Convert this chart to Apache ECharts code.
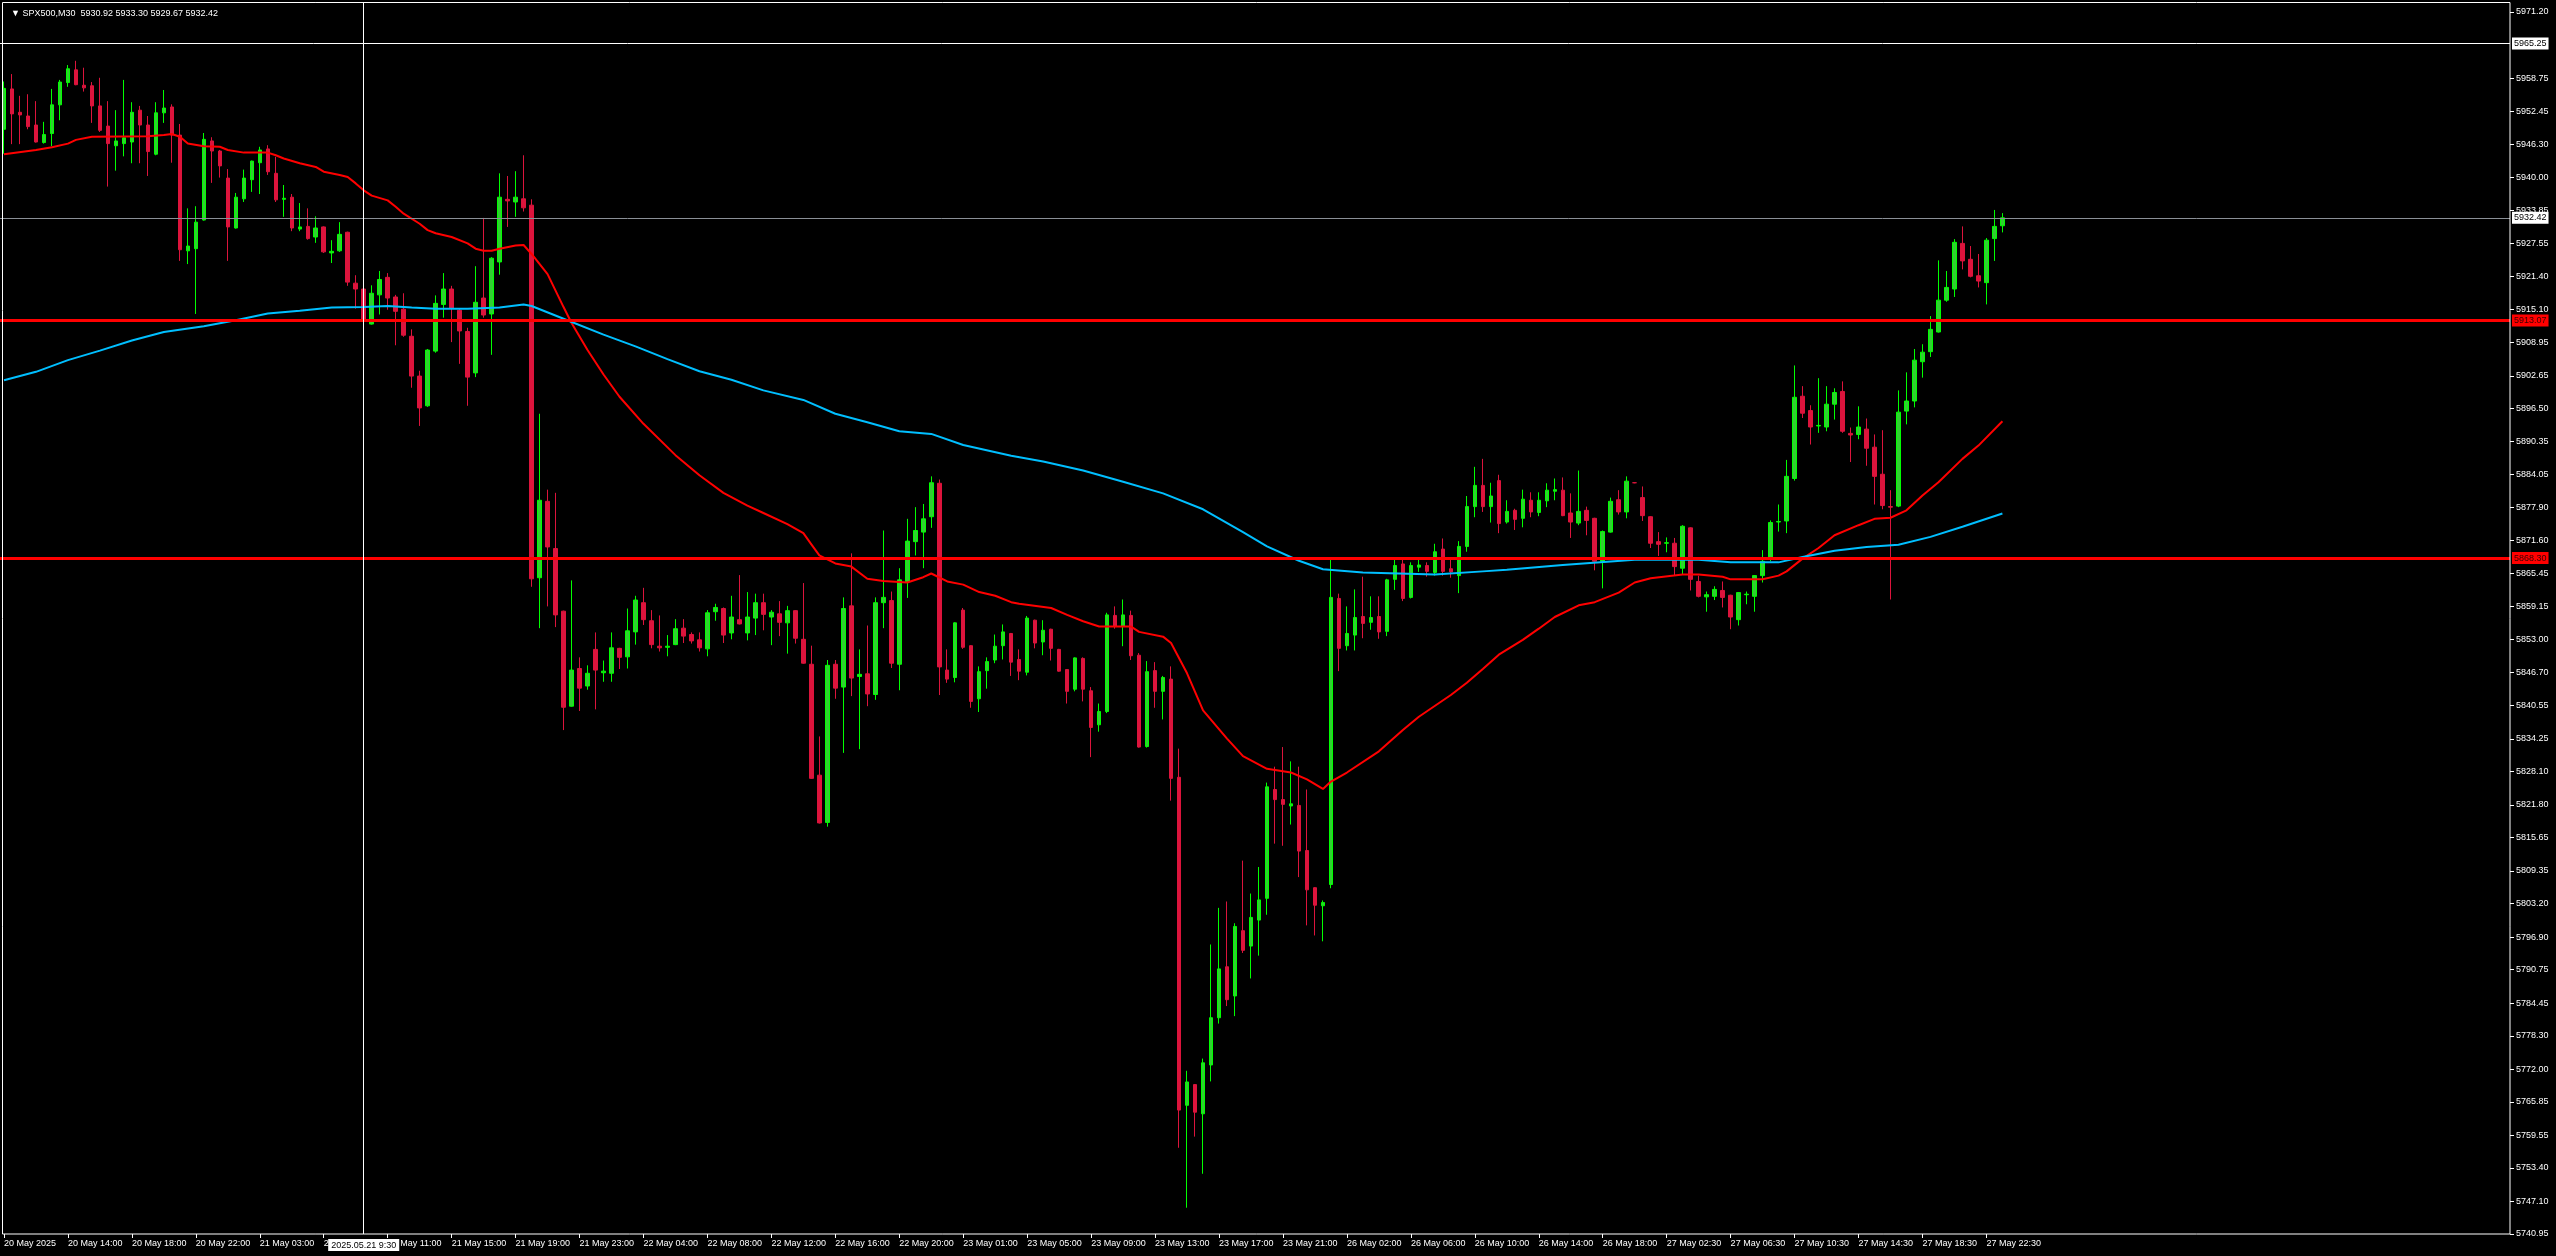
<!DOCTYPE html>
<html><head><meta charset="utf-8">
<script src="https://cdn.jsdelivr.net/npm/echarts@6/dist/echarts.min.js"></script>
<style>html,body{margin:0;padding:0;background:#000;overflow:hidden}#c{width:2556px;height:1256px}</style>
</head><body><div id="c"></div>
<script>
// [open, high, low, close] per 30-minute bar, 20 May 10:00 -> 27 May 23:30
const bars = [
[5949.1,5958.1,5944.5,5956.8],[5956.7,5959.5,5946.3,5952.0],[5952.3,5955.4,5946.3,5951.8],[5951.6,5955.7,5949.1,5949.6],
[5949.9,5954.4,5946.6,5946.7],[5946.6,5950.5,5946.4,5948.1],[5948.3,5956.7,5945.9,5953.7],[5953.7,5958.4,5950.8,5958.0],
[5957.9,5961.2,5957.1,5960.5],[5960.3,5962.0,5957.4,5957.5],[5957.4,5960.7,5956.2,5956.9],[5957.3,5958.0,5950.3,5953.5],
[5953.5,5958.8,5948.6,5948.9],[5949.7,5954.4,5938.3,5946.4],[5946.0,5952.7,5941.3,5946.9],[5946.4,5958.4,5944.0,5947.5],
[5946.7,5954.2,5942.7,5952.3],[5952.7,5953.5,5942.7,5949.9],[5949.9,5951.6,5940.3,5944.9],[5944.4,5954.2,5944.2,5952.2],
[5952.2,5956.5,5950.3,5953.1],[5953.3,5953.8,5942.8,5948.0],[5948.0,5950.1,5924.3,5926.4],[5926.2,5934.2,5923.7,5927.1],
[5926.6,5934.6,5914.3,5931.6],[5932.0,5948.4,5931.9,5947.2],[5946.9,5947.6,5939.0,5945.0],[5945.0,5945.2,5940.0,5942.2],
[5939.9,5941.6,5924.3,5930.7],[5930.5,5937.1,5930.4,5936.3],[5936.0,5941.5,5935.4,5939.9],[5939.6,5943.2,5937.3,5943.1],
[5942.8,5945.8,5936.9,5945.2],[5945.4,5946.1,5940.5,5941.1],[5940.8,5943.9,5935.4,5935.8],[5935.9,5938.6,5932.6,5936.1],
[5936.3,5936.9,5929.9,5930.5],[5930.3,5935.2,5929.9,5930.7],[5930.8,5934.2,5928.3,5928.5],[5928.8,5932.7,5927.7,5930.5],
[5930.7,5930.8,5925.8,5926.0],[5925.8,5928.2,5923.9,5926.1],[5926.2,5931.6,5926.0,5929.3],[5929.7,5929.8,5919.6,5920.3],
[5920.1,5921.6,5915.3,5919.0],[5919.0,5921.5,5911.3,5912.9],[5912.4,5919.7,5912.3,5918.2],[5917.9,5922.4,5914.2,5920.8],
[5921.2,5922.0,5915.1,5917.3],[5917.5,5917.9,5908.4,5914.8],[5915.2,5918.2,5910.0,5910.3],[5910.1,5911.4,5900.4,5902.6],
[5902.6,5903.6,5893.2,5896.6],[5897.0,5907.7,5896.8,5907.5],[5907.3,5917.8,5907.0,5916.3],[5916.1,5922.0,5913.6,5919.0],
[5919.0,5919.6,5909.0,5915.4],[5915.0,5915.3,5904.9,5911.1],[5911.0,5911.7,5897.0,5902.4],[5903.2,5923.3,5902.4,5916.5],
[5917.3,5932.4,5913.6,5914.1],[5914.3,5925.0,5906.6,5924.8],[5924.1,5940.8,5921.7,5936.3],[5935.9,5940.3,5930.7,5935.6],
[5935.4,5941.2,5932.6,5936.3],[5936.0,5944.2,5933.6,5934.3],[5934.8,5935.9,5862.9,5864.4],[5864.6,5895.5,5855.1,5879.2],
[5879.0,5881.2,5859.2,5870.4],[5870.1,5880.6,5855.3,5857.6],[5858.3,5858.4,5835.9,5840.2],[5840.4,5864.1,5840.3,5847.2],
[5847.5,5849.6,5839.5,5843.8],[5844.2,5848.1,5843.5,5846.6],[5851.1,5854.3,5839.8,5847.2],[5846.7,5849.0,5845.0,5847.0],
[5846.6,5854.3,5845.0,5851.4],[5851.3,5851.4,5847.4,5849.6],[5849.7,5858.8,5847.5,5854.6],[5854.4,5861.2,5852.0,5860.4],
[5859.9,5862.7,5855.7,5856.7],[5856.5,5858.5,5851.3,5852.0],[5851.7,5857.5,5850.7,5851.4],[5851.5,5853.8,5849.8,5851.7],
[5852.0,5856.8,5851.9,5855.0],[5855.1,5856.8,5852.3,5853.6],[5853.9,5854.3,5852.2,5852.7],[5852.9,5854.3,5850.7,5851.4],
[5851.2,5858.5,5849.8,5858.0],[5858.2,5859.7,5856.5,5859.0],[5858.8,5859.0,5852.3,5853.8],[5854.2,5861.2,5853.0,5857.2],
[5856.7,5865.1,5855.8,5855.9],[5854.2,5861.9,5852.8,5857.2],[5857.0,5861.6,5853.8,5859.9],[5859.9,5861.6,5854.7,5857.7],
[5857.2,5858.5,5851.9,5858.1],[5857.8,5860.2,5853.6,5856.2],[5856.1,5859.3,5850.3,5858.4],[5858.4,5858.5,5852.2,5853.2],
[5853.0,5863.6,5848.4,5848.5],[5848.3,5851.8,5826.7,5826.8],[5827.4,5834.7,5818.3,5818.4],[5818.5,5849.1,5817.7,5848.1],
[5848.3,5849.1,5841.8,5843.8],[5844.0,5860.9,5831.6,5858.8],[5859.3,5869.2,5842.3,5845.7],[5846.0,5851.1,5832.3,5846.4],
[5846.5,5855.6,5840.4,5842.7],[5842.6,5860.9,5841.6,5859.9],[5859.9,5873.5,5855.1,5860.9],[5860.3,5862.0,5847.6,5848.5],
[5848.3,5866.4,5843.4,5864.2],[5863.9,5875.7,5860.8,5871.5],[5871.4,5877.9,5868.8,5873.5],[5873.2,5878.5,5866.4,5875.7],
[5876.1,5883.7,5874.0,5882.5],[5882.4,5883.1,5842.5,5847.8],[5847.2,5851.1,5844.8,5845.5],[5845.8,5856.2,5844.9,5856.1],
[5858.5,5858.9,5851.2,5851.5],[5851.8,5851.9,5840.1,5841.3],[5841.8,5847.9,5839.3,5846.9],[5847.1,5849.6,5843.7,5848.8],
[5849.1,5853.9,5848.5,5851.7],[5851.8,5855.8,5849.2,5854.4],[5854.1,5854.2,5846.1,5848.7],[5849.2,5851.1,5845.3,5847.0],
[5846.8,5857.4,5846.2,5857.0],[5856.6,5856.7,5851.3,5852.3],[5852.5,5856.6,5850.0,5854.7],[5854.9,5855.0,5849.0,5851.3],
[5851.1,5851.2,5846.9,5847.0],[5847.3,5847.4,5840.9,5843.2],[5843.6,5849.6,5843.2,5849.5],[5849.4,5849.6,5841.3,5843.6],
[5843.3,5844.0,5830.8,5836.4],[5836.9,5840.9,5835.6,5839.4],[5839.4,5858.0,5839.1,5857.6],[5857.5,5859.2,5855.0,5855.4],
[5855.4,5860.5,5851.7,5857.6],[5857.5,5858.4,5849.1,5849.9],[5850.0,5850.4,5832.6,5832.7],[5832.8,5848.9,5832.6,5846.9],
[5847.1,5848.7,5840.1,5843.2],[5843.2,5846.1,5837.9,5845.8],[5845.5,5847.9,5822.6,5826.8],[5827.0,5832.4,5757.2,5764.3],
[5765.2,5771.7,5745.9,5769.6],[5769.1,5769.2,5759.3,5763.9],[5763.6,5774.0,5752.3,5773.2],[5772.8,5795.5,5769.7,5781.7],
[5781.7,5802.4,5780.6,5790.9],[5791.3,5803.6,5783.9,5785.1],[5785.8,5799.5,5782.0,5798.9],[5798.1,5811.3,5793.9,5794.4],
[5795.2,5805.1,5789.1,5800.6],[5800.1,5810.1,5793.4,5803.9],[5804.2,5826.0,5801.1,5825.2],[5824.7,5829.0,5814.5,5822.8],
[5822.8,5832.7,5814.1,5821.9],[5821.6,5830.0,5818.1,5822.0],[5821.7,5829.0,5808.2,5813.1],[5813.2,5824.7,5799.1,5805.8],
[5806.2,5806.3,5797.2,5802.9],[5802.8,5803.8,5796.1,5803.4],[5806.8,5868.0,5806.1,5860.9],[5860.7,5861.6,5847.0,5851.3],
[5851.8,5859.2,5850.9,5854.1],[5853.8,5862.4,5850.9,5857.1],[5857.3,5864.8,5853.2,5856.0],[5856.2,5861.1,5854.8,5857.1],
[5857.3,5861.1,5853.1,5854.4],[5854.5,5864.4,5853.6,5864.2],[5864.3,5868.5,5862.3,5866.9],[5867.2,5868.0,5860.2,5860.7],
[5860.9,5867.5,5860.7,5866.9],[5866.6,5868.5,5865.7,5867.0],[5866.9,5867.5,5864.8,5865.8],[5865.6,5871.0,5865.0,5869.5],
[5870.0,5872.0,5865.0,5865.8],[5866.3,5868.0,5864.6,5865.7],[5865.0,5871.5,5861.7,5870.5],[5870.5,5880.0,5869.5,5878.0],
[5878.0,5885.5,5876.0,5882.0],[5882.0,5887.0,5877.0,5878.0],[5878.0,5882.5,5875.0,5880.0],[5882.9,5884.0,5873.0,5874.8],
[5875.1,5879.2,5874.8,5877.1],[5877.3,5877.6,5873.6,5875.6],[5875.8,5881.2,5874.1,5879.4],[5879.2,5880.7,5876.0,5877.0],
[5876.9,5880.7,5876.2,5879.2],[5879.1,5882.4,5877.9,5881.1],[5880.9,5883.3,5879.2,5881.2],[5881.1,5883.5,5876.2,5876.3],
[5876.8,5880.5,5872.1,5875.1],[5874.9,5884.8,5874.5,5877.1],[5877.3,5878.0,5872.6,5875.4],[5875.8,5875.9,5866.0,5867.7],
[5867.7,5873.5,5862.6,5873.3],[5873.2,5879.7,5873.1,5879.0],[5879.3,5881.1,5876.5,5877.0],[5877.0,5883.7,5875.8,5882.8],
[5882.5,5882.6,5882.4,5882.5],[5879.7,5881.8,5875.3,5876.3],[5876.1,5876.2,5870.2,5871.1],[5871.4,5873.2,5868.7,5870.9],
[5871.1,5872.2,5869.4,5871.2],[5871.1,5872.1,5865.0,5866.7],[5866.4,5874.5,5865.3,5874.3],[5874.0,5874.1,5862.2,5864.3],
[5863.9,5865.0,5860.9,5861.1],[5861.0,5862.0,5858.2,5861.4],[5861.1,5863.0,5860.4,5862.4],[5862.2,5863.9,5859.0,5860.9],
[5861.3,5861.4,5854.9,5857.2],[5856.7,5861.9,5855.6,5861.8],[5861.4,5862.0,5859.6,5861.5],[5861.1,5865.1,5858.2,5865.0],
[5865.0,5869.8,5863.7,5867.7],[5868.1,5875.4,5867.7,5875.0],[5875.1,5878.4,5873.3,5875.2],[5875.3,5886.8,5873.0,5883.7],
[5883.3,5904.6,5882.9,5898.6],[5898.8,5900.7,5894.7,5895.6],[5896.1,5897.1,5889.7,5893.0],[5893.2,5902.2,5891.9,5893.3],
[5893.0,5900.7,5892.2,5897.3],[5897.3,5900.3,5894.4,5899.5],[5899.7,5901.6,5891.9,5892.2],[5891.8,5892.9,5886.4,5891.5],
[5891.6,5896.9,5890.7,5893.0],[5892.6,5894.6,5885.7,5889.0],[5889.2,5891.6,5878.4,5883.7],[5884.1,5892.4,5877.5,5878.2],
[5878.0,5881.1,5860.5,5877.9],[5878.1,5899.9,5877.9,5895.8],[5896.0,5903.3,5893.5,5897.9],[5897.9,5907.7,5896.7,5905.6],
[5905.3,5908.6,5902.3,5907.1],[5907.2,5913.9,5906.2,5911.4],[5910.9,5924.4,5910.8,5916.9],[5916.9,5922.4,5916.6,5919.3],
[5919.0,5928.4,5917.5,5927.8],[5927.6,5930.8,5922.7,5924.3],[5924.6,5927.1,5921.2,5921.4],[5921.5,5925.6,5919.3,5920.5],
[5920.2,5928.6,5916.1,5928.2],[5928.5,5933.9,5924.3,5930.8],[5930.92,5933.30,5929.67,5932.42]
];

// fast moving average (red), [bar index, value]
const maRed = [
[0,5944.4],[4,5945.2],[6,5945.7],[8,5946.4],[9,5947.1],[11,5947.7],[18,5947.8],[20,5948.0],[21,5948.2],[22,5947.7],
[23,5946.4],[25,5945.9],[27,5945.8],[28,5945.2],[30,5944.7],[33,5944.7],[34,5944.2],[35,5943.6],[37,5942.7],[39,5942.0],
[40,5941.1],[42,5940.5],[43,5940.1],[44,5938.9],[45,5937.6],[46,5936.6],[48,5935.7],[49,5934.5],[50,5933.2],[52,5931.3],
[53,5930.1],[54,5929.5],[56,5928.8],[58,5927.6],[59,5926.6],[60,5926.2],[61,5926.2],[62,5926.6],[64,5927.2],[65,5927.3],
[66,5925.6],[68,5921.8],[70,5915.6],[71,5912.6],[73,5907.5],[75,5902.9],[77,5898.7],[80,5893.6],[84,5887.7],[87,5883.9],
[90,5880.6],[93,5878.2],[95,5876.8],[98,5874.7],[100,5873.0],[101,5870.9],[102,5868.8],[104,5867.3],[106,5866.7],[108,5864.4],
[110,5864.0],[113,5863.7],[115,5864.7],[116,5865.4],[118,5863.9],[120,5863.3],[122,5861.9],[124,5861.2],[126,5860.0],[127,5859.7],
[131,5858.9],[133,5857.6],[135,5856.4],[137,5855.4],[141,5855.4],[142,5854.4],[145,5853.5],[146,5852.3],[148,5846.6],[150,5839.6],
[153,5834.3],[155,5831.0],[158,5828.6],[161,5827.9],[163,5826.6],[165,5824.8],[166,5826.2],[168,5827.9],[172,5831.9],[175,5835.9],
[177,5838.4],[181,5842.5],[183,5844.8],[185,5847.4],[187,5850.1],[190,5852.9],[192,5855.0],[194,5857.2],[197,5859.4],[199,5860.0],
[202,5861.8],[204,5863.7],[206,5864.5],[210,5865.2],[212,5865.2],[215,5864.8],[216,5864.3],[220,5864.3],[222,5865.0],[223,5865.8],
[225,5868.2],[227,5870.2],[229,5872.6],[232,5874.5],[234,5875.7],[236,5875.9],[238,5877.3],[240,5880.1],[242,5882.6],[245,5887.0],
[247,5889.5],[250,5894.1]
];

// slow moving average (blue)
const maBlue = [
[0,5901.8],[4,5903.4],[8,5905.6],[12,5907.4],[16,5909.3],[20,5910.9],[25,5912.0],[29,5913.1],[33,5914.4],[37,5914.9],
[41,5915.5],[45,5915.6],[48,5915.8],[51,5915.5],[54,5915.3],[58,5915.3],[62,5915.5],[65,5916.1],[66,5915.8],[70,5913.4],
[75,5910.4],[79,5908.2],[83,5905.8],[87,5903.5],[91,5901.9],[95,5899.9],[100,5898.1],[104,5895.5],[108,5893.9],[112,5892.2],
[116,5891.7],[120,5889.6],[126,5887.6],[130,5886.5],[135,5884.8],[140,5882.7],[145,5880.5],[150,5877.5],[155,5873.2],[158,5870.5],
[162,5867.8],[165,5866.2],[170,5865.6],[179,5865.2],[185,5865.8],[188,5866.1],[195,5867.0],[204,5868.0],[212,5868.0],[216,5867.5],
[222,5867.5],[225,5868.5],[229,5869.7],[233,5870.4],[237,5870.8],[241,5872.3],[245,5874.2],[250,5876.7]
];

// time labels, one every 8 bars starting at bar 0
const xLabels = [
'20 May 2025','20 May 14:00','20 May 18:00','20 May 22:00','21 May 03:00','21 May 07:00','21 May 11:00','21 May 15:00',
'21 May 19:00','21 May 23:00','22 May 04:00','22 May 08:00','22 May 12:00','22 May 16:00','22 May 20:00','23 May 01:00',
'23 May 05:00','23 May 09:00','23 May 13:00','23 May 17:00','23 May 21:00','26 May 02:00','26 May 06:00','26 May 10:00',
'26 May 14:00','26 May 18:00','27 May 02:30','27 May 06:30','27 May 10:30','27 May 14:30','27 May 18:30','27 May 22:30'
];

// price scale tick labels
const yTicks = [5971.20,5958.75,5952.45,5946.30,5940.00,5933.85,5927.55,5921.40,5915.10,5908.95,5902.65,5896.50,
5890.35,5884.05,5877.90,5871.60,5865.45,5859.15,5853.00,5846.70,5840.55,5834.25,5828.10,5821.80,5815.65,5809.35,
5803.20,5796.90,5790.75,5784.45,5778.30,5772.00,5765.85,5759.55,5753.40,5747.10,5740.95];

// horizontal levels: [price, kind]
const levels = [[5965.25,'white'],[5932.42,'bid'],[5913.07,'red'],[5868.30,'red']];
const crosshairBar = 45;
const crosshairText = '2025.05.21 9:30';
const titleText = 'SPX500,M30  5930.92 5933.30 5929.67 5932.42';
const yMin = 5740.95, yMax = 5973.08;
const totalSlots = 314;

const FONT = 'Liberation Sans';
const categories = Array.from({length: totalSlots}, (_, i) => String(i));
const candleData = bars.map(b => [b[0], b[3], b[2], b[1]]);
const showTick = (i) => i % 8 === 0 && (i / 8) < xLabels.length;

const levelStyles = {
  white: {line: {color: '#ffffff', width: 1, type: 'solid'}, bg: '#ffffff', fg: '#000000'},
  bid:   {line: {color: '#8a8f96', width: 1, type: 'solid'}, bg: '#ffffff', fg: '#000000'},
  red:   {line: {color: '#ff0000', width: 3, type: 'solid'}, bg: '#ff0000', fg: '#3a0000'}
};
const markData = levels.map(([v, k]) => ({
  yAxis: v,
  lineStyle: levelStyles[k].line,
  label: {show: true, position: 'end', distance: 2, formatter: v.toFixed(2),
    backgroundColor: levelStyles[k].bg, color: levelStyles[k].fg,
    fontFamily: FONT, fontSize: 9, padding: [2, 2, 1, 2]}
}));
markData.push({
  xAxis: crosshairBar,
  lineStyle: {color: '#ffffff', width: 1, type: 'solid'},
  label: {show: true, position: 'start', distance: 5, formatter: crosshairText,
    backgroundColor: '#ffffff', color: '#000000', fontFamily: FONT, fontSize: 9, padding: [2, 3, 1, 3]}
});

const chart = echarts.init(document.getElementById('c'), null, {renderer: 'canvas'});
chart.setOption({
  backgroundColor: '#000000',
  animation: false,
  title: {text: '\u25BC ' + titleText, left: 6, top: 4,
    textStyle: {color: '#ffffff', fontSize: 9, fontWeight: 'normal', fontFamily: FONT}},
  grid: {left: 0, right: 46, top: 2, bottom: 22},
  xAxis: {
    type: 'category', data: categories, boundaryGap: true,
    axisLine: {show: false},
    axisTick: {show: true, alignWithLabel: true, interval: (i) => showTick(i), length: 4, lineStyle: {color: '#ffffff'}},
    axisLabel: {interval: (i) => showTick(i), formatter: (v, i) => xLabels[i / 8] || '', align: 'left',
      color: '#ffffff', fontSize: 9, fontFamily: FONT, margin: 5},
    splitLine: {show: false}
  },
  yAxis: {
    type: 'value', position: 'right', min: yMin, max: yMax,
    axisLine: {show: false},
    axisTick: {show: true, customValues: yTicks, length: 4, lineStyle: {color: '#ffffff'}},
    axisLabel: {customValues: yTicks, formatter: (v) => Number(v).toFixed(2), color: '#ffffff',
      fontSize: 9, fontFamily: FONT, margin: 6, showMinLabel: true, showMaxLabel: true},
    splitLine: {show: false}
  },
  graphic: [{type: 'rect', silent: true, z: 100,
    shape: {x: 2.5, y: 2.5, width: 2507.5, height: 1231.5},
    style: {fill: 'none', stroke: '#ffffff', lineWidth: 1}}],
  series: [
    {type: 'candlestick', data: candleData, barWidth: 4,
      itemStyle: {color: '#32cd32', color0: '#dc143c', borderColor: '#00ff00', borderColor0: '#dc143c', borderWidth: 1},
      markLine: {symbol: ['none', 'none'], silent: true, animation: false, data: markData}},
    {type: 'line', data: maRed, symbol: 'none', z: 3, lineStyle: {color: '#ff0000', width: 2}},
    {type: 'line', data: maBlue, symbol: 'none', z: 3, lineStyle: {color: '#00bfff', width: 2}}
  ]
});
</script></body></html>
